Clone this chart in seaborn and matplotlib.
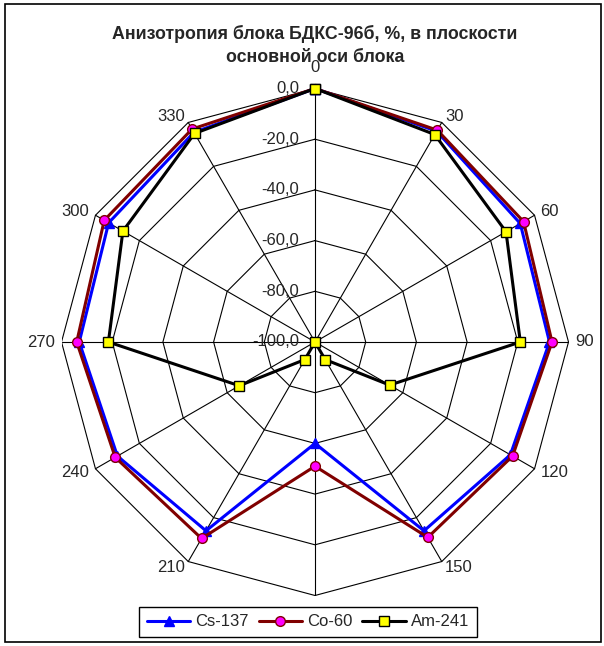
# radar chart of block anisotropy (excel style), redone in seaborn/matplotlib
import numpy as np
import pandas as pd

import matplotlib
matplotlib.use('Agg')
from matplotlib import pyplot as plt
from matplotlib.patches import Rectangle
import seaborn as sns

############ --------------- DATA --------------- ###########
angles = [0, 30, 60, 90, 120, 150, 180, 210, 240, 270, 300, 330]
cs137 = [0.0, -4.0, -6.5, -7.5, -11.0, -14.0, -60.0, -14.0, -10.0, -7.0, -6.0, -4.5]
co60 = [0.0, -3.5, -5.0, -6.5, -10.0, -11.0, -51.0, -10.5, -9.0, -6.0, -4.0, -3.0]
am241 = [0.0, -5.5, -13.0, -19.0, -66.0, -92.0, -100.0, -92.0, -65.5, -18.5, -12.5, -5.0]
series_names = ['Cs-137', 'Co-60', 'Am-241']
radial_ticks = [-100, -80, -60, -40, -20, 0]
title_str = 'Анизотропия блока БДКС-96б, %, в плоскости\nосновной оси блока'

rmin, rmax = -100, 0

############ --------------- HELPERS --------------- ###########
def to_xy(vals):
    # close the polygon and map value -> cartesian (0 deg at top, clockwise)
    th = np.deg2rad(np.array(angles + [angles[0]]))
    r = np.array(list(vals) + [vals[0]]) - rmin
    return r * np.sin(th), r * np.cos(th)

frames = []
for name, vals in zip(series_names, [cs137, co60, am241]):
    x, y = to_xy(vals)
    frames.append(pd.DataFrame({'x': x, 'y': y, 'series': name}))
df = pd.concat(frames, ignore_index=True)

############ --------------- PLOT IT! --------------- ###########
sns.set_style('white')
plt.rcParams['font.family'] = ['Liberation Sans', 'DejaVu Sans']

W, H = 604, 646
fig = plt.figure(figsize=(W / 100, H / 100), dpi=100)
cx, cy, R = 315, 342, 253.5
ax = fig.add_axes([(cx - R) / W, (H - cy - R) / H, 2 * R / W, 2 * R / H])
span = rmax - rmin
ax.set_xlim(-span, span)
ax.set_ylim(-span, span)
ax.axis('off')

# polygon grid + spokes
for v in radial_ticks:
    gx, gy = to_xy([v] * len(angles))
    ax.plot(gx, gy, color='k', lw=0.8, zorder=1)
for a in angles:
    t = np.deg2rad(a)
    ax.plot([0, span * np.sin(t)], [0, span * np.cos(t)], color='k', lw=0.8, zorder=1)

# series
styles = {
    'Cs-137': dict(color='#0000FF', marker='^', markerfacecolor='#0000FF',
                   markeredgecolor='#0000FF', markersize=7),
    'Co-60': dict(color='#800000', marker='o', markerfacecolor='#FF00FF',
                  markeredgecolor='#800000', markersize=7),
    'Am-241': dict(color='black', marker='s', markerfacecolor='#FFFF00',
                   markeredgecolor='black', markersize=6.5),
}
handles = []
for name in series_names:
    sub = df[df['series'] == name]
    sns.lineplot(data=sub, x='x', y='y', sort=False, estimator=None, ax=ax,
                 linewidth=2.2, markeredgewidth=1, clip_on=False, zorder=3,
                 legend=False, **styles[name])
    handles.append(ax.lines[-1])

# radial value labels
for v in radial_ticks:
    ax.annotate(f'{v:.1f}'.replace('.', ','), xy=(0, v - rmin), xytext=(-16, 0),
                textcoords='offset pixels', ha='right', va='center', fontsize=12)

# category labels (180 sits under the legend in the original, so it is not shown)
for a in angles:
    if a == 180:
        continue
    t = np.deg2rad(a)
    s, c = np.sin(t), np.cos(t)
    ha = 'left' if s > 0.1 else ('right' if s < -0.1 else 'center')
    dist = 21 if abs(c) > 0.99 else 7
    ax.annotate(str(a), xy=(span * s, span * c), xytext=(dist * s, dist * c),
                textcoords='offset pixels', ha=ha, va='center', fontsize=12,
                annotation_clip=False)

# title
fig.text(cx / W, 1 - 45.5 / H, title_str, ha='center', va='center',
         fontsize=12.8, fontweight='bold', linespacing=1.45)

# legend
leg = fig.legend(handles, series_names, loc='center',
                 bbox_to_anchor=(308 / W, 1 - 622 / H), ncol=3, frameon=True,
                 fancybox=False, edgecolor='black', framealpha=1, fontsize=12,
                 handlelength=2.6, columnspacing=0.6, handletextpad=0.3,
                 borderpad=0.45, borderaxespad=0)
leg.get_frame().set_linewidth(1.0)

# outer chart border
fig.patches.append(Rectangle((5 / W, 4 / H), 596 / W, 638 / H, transform=fig.transFigure,
                             fill=False, edgecolor='black', lw=1.2))

fig.savefig('out.png', dpi=100)
